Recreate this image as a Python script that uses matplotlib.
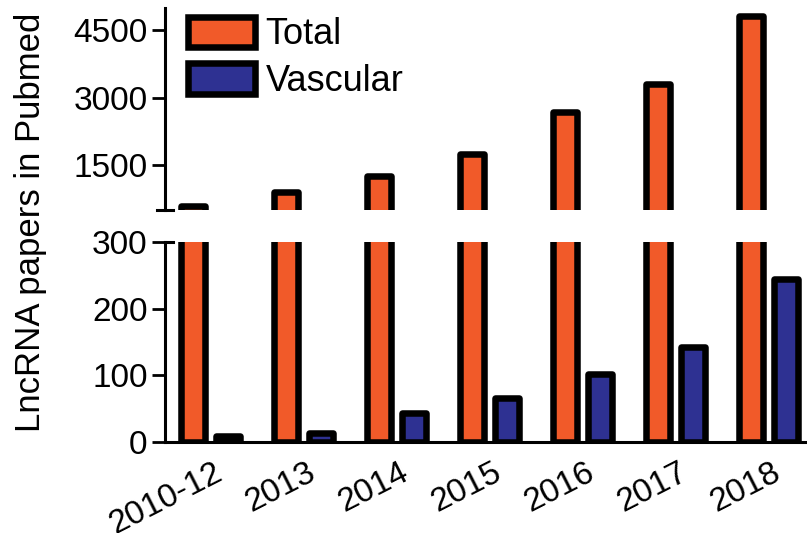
import numpy as np
import matplotlib
matplotlib.use('Agg')
import matplotlib.pyplot as plt
import matplotlib.transforms as mtransforms

plt.rcParams['font.family'] = 'Liberation Sans'

years = ['2010-12', '2013', '2014', '2015', '2016', '2017', '2018']
total = [600, 900, 1250, 1750, 2680, 3310, 4820]
vascular = [9, 13, 44, 66, 102, 142, 245]

ORANGE = '#F15A29'
BLUE = '#2E3192'

fig = plt.figure(figsize=(8.07, 5.33), dpi=100)
ax_top = fig.add_axes([165/807, (533-210)/533, 640/807, 202/533])
ax_bot = fig.add_axes([165/807, (533-442)/533, 640/807, 200/533], sharex=ax_top)

x = np.arange(len(years))
w = 0.253
off = 0.188
bar_kw = dict(width=w, edgecolor='black', linewidth=4.7, joinstyle='round')

for ax in (ax_top, ax_bot):
    b1 = ax.bar(x - off, total, color=ORANGE, label='Total', **bar_kw)
    b2 = ax.bar(x + off, vascular, color=BLUE, label='Vascular', **bar_kw)
    for s in ['top', 'right']:
        ax.spines[s].set_visible(False)
    ax.spines['left'].set_linewidth(2.2)
    ax.spines['bottom'].set_linewidth(2.2)
    ax.tick_params(axis='y', direction='out', length=9.5, width=2, labelsize=24, pad=3)

ax_top.set_xlim(-0.489, 6.39)
ax_top.set_ylim(500, 5000)
ax_top.set_yticks([1500, 3000, 4500])
ax_top.spines['bottom'].set_visible(False)
ax_top.tick_params(axis='x', bottom=False, labelbottom=False)

ax_bot.set_ylim(0, 300)
ax_bot.set_yticks([0, 100, 200, 300])
ax_bot.set_xticks(x)
ax_bot.set_xticklabels(years, rotation=27, ha='right', rotation_mode='anchor', fontsize=24)
ax_bot.tick_params(axis='x', length=0, pad=11)
shift = mtransforms.ScaledTranslation(3/100, 0, fig.dpi_scale_trans)
for lab in ax_bot.get_xticklabels():
    lab.set_transform(lab.get_transform() + shift)

# break marks
d = 8/640
ax_top.plot([-d, d], [0, 0], transform=ax_top.transAxes, color='black', lw=2.2, clip_on=False)
ax_bot.plot([0, d], [1, 1], transform=ax_bot.transAxes, color='black', lw=2.2, clip_on=False)

ax_top.legend(handles=[b1, b2], loc='upper left', bbox_to_anchor=(0.03, 0.975),
              frameon=False, fontsize=26, handlelength=1.85, handleheight=0.92,
              handletextpad=0.3, labelspacing=0.3, borderpad=0.1, borderaxespad=0)

fig.text(31/807, (533-222)/533, 'LncRNA papers in Pubmed', rotation=90,
         ha='center', va='center', fontsize=25)

fig.savefig('out.png', dpi=100)
